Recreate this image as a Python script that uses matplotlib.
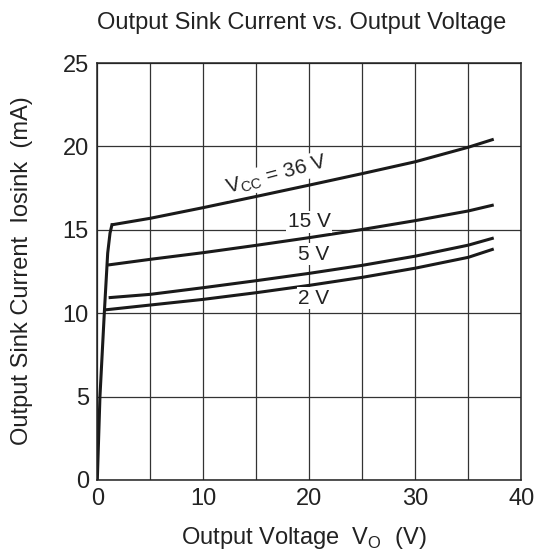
import numpy as np
import matplotlib
matplotlib.use("Agg")
import matplotlib.pyplot as plt

plt.rcParams["font.family"] = ["Liberation Sans", "DejaVu Sans"]

# saturation rise shared by all curves (Vo, mA)
rise_x = [0, 0.25, 0.66, 0.98, 1.2, 1.38]
rise_y = [0, 5, 10, 13.6, 14.8, 15.3]

# Vcc = 36 V
v36_x = [1.38, 5, 10, 15, 20, 25, 30, 35, 37.4]
v36_y = [15.3, 15.69, 16.33, 17.0, 17.68, 18.37, 19.08, 19.95, 20.43]
# Vcc = 15 V
v15_x = [1.01, 5, 10, 15, 20, 25, 30, 35, 37.4]
v15_y = [12.89, 13.23, 13.63, 14.07, 14.53, 15.02, 15.55, 16.13, 16.49]
# Vcc = 5 V
v5_x = [1.07, 5, 10, 15, 20, 25, 30, 35, 37.4]
v5_y = [10.93, 11.13, 11.53, 11.95, 12.39, 12.87, 13.42, 14.08, 14.51]
# Vcc = 2 V
v2_x = [0.6, 5, 10, 15, 20, 25, 30, 35, 37.4]
v2_y = [10.19, 10.49, 10.83, 11.23, 11.67, 12.15, 12.7, 13.35, 13.85]

xticks = [0, 10, 20, 30, 40]
yticks = [0, 5, 10, 15, 20, 25]

txt = "#222222"
lw = 2.2

fig = plt.figure(figsize=(5.34, 5.58), dpi=100)
ax = fig.add_axes([97.3 / 534, 1 - 480 / 558, 424 / 534, 417 / 558])

ax.plot(rise_x, rise_y, color="#1a1a1a", lw=lw, solid_joinstyle="round")
for xs, ys in [(v36_x, v36_y), (v15_x, v15_y), (v5_x, v5_y), (v2_x, v2_y)]:
    ax.plot(xs, ys, color="#1a1a1a", lw=lw, solid_capstyle="butt",
            solid_joinstyle="round")

ax.set_xlim(0, 40)
ax.set_ylim(0, 25)
ax.set_xticks(np.arange(0, 41, 5))
ax.set_xticklabels([str(v) if v in xticks else "" for v in range(0, 41, 5)])
ax.set_yticks(yticks)
ax.grid(True, color="#333333", lw=0.9)
ax.set_axisbelow(True)
ax.tick_params(length=0, pad=6, labelsize=17, labelcolor=txt)
for s in ax.spines.values():
    s.set_linewidth(1.1)
    s.set_color("#222222")

box = dict(facecolor="white", edgecolor="none", pad=1.0)
ax.text(16.95, 18.3, "V$_\\mathregular{CC}$ = 36 V", fontsize=15, color=txt,
        rotation=15, ha="center", va="center", bbox=box)
ax.text(20.0, 15.49, "15 V", fontsize=15, color=txt, ha="center", va="center", bbox=box)
ax.text(20.4, 13.53, "5 V", fontsize=15, color=txt, ha="center", va="center", bbox=box)
ax.text(20.4, 10.89, "2 V", fontsize=15, color=txt, ha="center", va="center", bbox=box)

fig.text(302 / 534, 1 - 23 / 558, "Output Sink Current vs. Output Voltage",
         fontsize=17, color=txt, ha="center", va="center")
fig.text(304 / 534, 1 - 538 / 558, "Output Voltage  V$_\\mathregular{O}$  (V)",
         fontsize=17, color=txt, ha="center", va="center")
fig.text(22 / 534, 1 - 271 / 558, "Output Sink Current  Iosink  (mA)",
         fontsize=17, color=txt, ha="center", va="center", rotation=90)

fig.savefig("out.png", dpi=100)
